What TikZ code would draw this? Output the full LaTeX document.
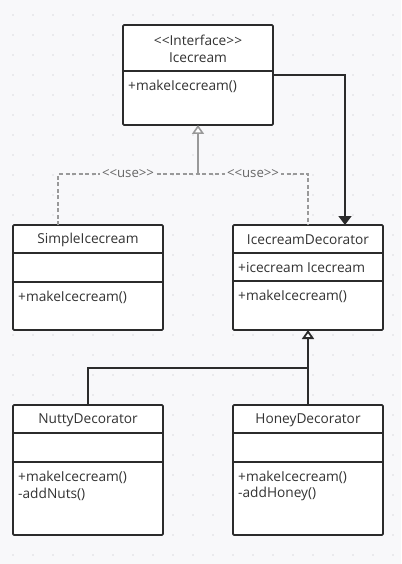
\documentclass[tikz,border=0pt]{standalone}
\usepackage{fontspec}
\setmainfont{Open Sans}
\usetikzlibrary{arrows.meta}
\definecolor{bgc}{HTML}{F8F8FA}
\definecolor{dotc}{HTML}{DCDCE0}
\definecolor{boxc}{HTML}{2B2B2B}
\definecolor{txtc}{HTML}{333333}
\definecolor{grayc}{HTML}{999999}
\tikzset{
  cls/.style={draw=boxc, line width=1.8pt, fill=white, rounded corners=1.2pt,
    inner sep=0pt, outer sep=0pt, minimum width=150pt},
  divider/.style={draw=boxc, line width=1.5pt},
  title/.style={font=\fontsize{13.7}{15}\selectfont, text=txtc, inner sep=0pt},
  member/.style={font=\fontsize{13.7}{15}\selectfont, text=txtc, inner sep=0pt, anchor=west},
  uselabel/.style={font=\fontsize{13.2}{15}\selectfont, text=black!60, fill=bgc, inner sep=2pt},
  uses/.style={draw=grayc, line width=1.4pt, dash pattern=on 4pt off 2.5pt},
  realize/.style={draw=grayc, line width=1.6pt, -{Triangle[open, width=12pt, length=9pt, fill=white]}},
  inherit/.style={draw=boxc, line width=1.8pt, -{Triangle[open, width=12pt, length=9pt, fill=white]}},
  assoc/.style={draw=boxc, line width=1.8pt, -{Triangle[width=13pt, length=9pt]}},
}
\begin{document}
\begin{tikzpicture}[x=1pt,y=-1pt]
\fill[bgc] (0,0) rectangle (401,564);
\useasboundingbox (0,0) rectangle (401,564);
\foreach \i in {0,...,19} {
  \foreach \j in {0,...,27} {
    \fill[dotc] (13+20*\i, 15+20*\j) circle (0.9);
  }
}
% classes
\node[cls, minimum height=100pt] (ice) at (198,75) {};
\node[cls, minimum height=105pt] (simple) at (88,277.5) {};
\node[cls, minimum height=105pt] (dec) at (308,277.5) {};
\node[cls, minimum height=130pt] (nutty) at (88,470) {};
\node[cls, minimum height=130pt] (honey) at (308,470) {};
% dividers
\draw[divider] (ice.west |- 0,71) -- (ice.east |- 0,71);
\draw[divider] (simple.west |- 0,253) -- (simple.east |- 0,253);
\draw[divider] (simple.west |- 0,282) -- (simple.east |- 0,282);
\draw[divider] (dec.west |- 0,253) -- (dec.east |- 0,253);
\draw[divider] (dec.west |- 0,281) -- (dec.east |- 0,281);
\draw[divider] (nutty.west |- 0,433) -- (nutty.east |- 0,433);
\draw[divider] (nutty.west |- 0,462) -- (nutty.east |- 0,462);
\draw[divider] (honey.west |- 0,433) -- (honey.east |- 0,433);
\draw[divider] (honey.west |- 0,462) -- (honey.east |- 0,462);
% texts
\node[title] (iceS) at (198,40) {<{}<Interface>{}>};
\node[title] (iceT) at (198,58) {Icecream};
\node[member] (iceM) at (128,86) {+makeIcecream()};
\node[title] (simT) at (88,240) {SimpleIcecream};
\node[member] (simM) at (18,297) {+makeIcecream()};
\node[title] (decT) at (308,240) {IcecreamDecorator};
\node[member] (decA) at (238,268) {+icecream Icecream};
\node[member] (decM) at (238,296) {+makeIcecream()};
\node[title] (nutT) at (88,420) {NuttyDecorator};
\node[member] (nutM1) at (18,477) {+makeIcecream()};
\node[member] (nutM2) at (18,494) {-addNuts()};
\node[title] (honT) at (308,420) {HoneyDecorator};
\node[member] (honM1) at (238,477) {+makeIcecream()};
\node[member] (honM2) at (238,494) {-addHoney()};
% connectors
\coordinate (j1) at (198,174);
\coordinate (j2) at (308,368);
\draw[uses] ([xshift=-30pt]simple.north) |- (j1) -- (dec.north |- j1) -- (dec.north);
\node[uselabel] (use1) at (128,174) {<{}<use>{}>};
\node[uselabel] (use2) at (253,174) {<{}<use>{}>};
\draw[realize] (j1) -- (ice.south);
\draw[assoc] (ice.east) -| ([xshift=37pt]dec.north);
\draw[inherit] (honey.north) -- (dec.south);
\draw[draw=boxc, line width=1.8pt] (nutty.north) |- (j2);
\end{tikzpicture}
\end{document}
